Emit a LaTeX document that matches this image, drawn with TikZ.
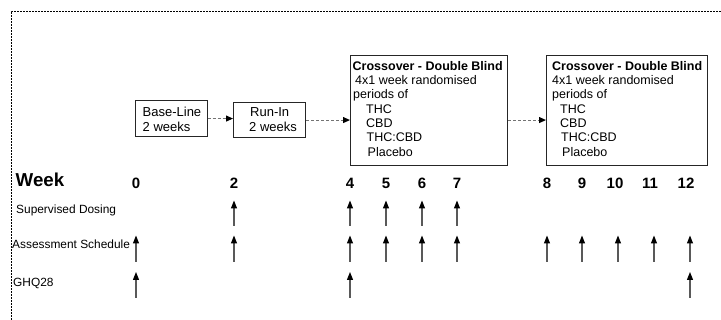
\documentclass[tikz,border=0pt]{standalone}
\usepackage{fontspec}
\setmainfont{Liberation Sans}
\usetikzlibrary{arrows.meta}
\begin{document}
\begin{tikzpicture}[x=1pt,y=-1pt,
  box/.style={draw=black!85, line width=1.1pt, inner sep=0pt, anchor=north west},
  boxtext/.style={anchor=north west, inner sep=0pt, align=left, font=\fontsize{12.5}{14.3}\selectfont},
  smalltext/.style={anchor=north west, inner sep=0pt, align=left, font=\fontsize{13}{15.3}\selectfont},
  flow/.style={draw=black!55, line width=1pt, dash pattern=on 3pt off 2pt, -{Triangle[length=7pt,width=6pt,black]}},
  tick/.style={draw=black!65, line width=1.3pt, -{Triangle[length=8pt,width=6pt,black]}},
  wk/.style={font=\fontsize{15}{15}\bfseries\selectfont, inner sep=0pt},
  rowlab/.style={font=\fontsize{11.9}{12}\selectfont, anchor=west, inner sep=0pt},
]
\useasboundingbox (0,0) rectangle (721,320);
% frame (cropped)
\draw[dash pattern=on 2pt off 1pt, line width=0.9pt] (11,320) -- (11,11) -- (721,11);

% boxes
\node[box, minimum width=72pt, minimum height=36pt] (base) at (134.5,100) {};
\node[box, minimum width=72pt, minimum height=35pt] (run) at (233,102) {};
\node[box, minimum width=157pt, minimum height=110pt] (c1) at (350,55) {};
\node[box, minimum width=161pt, minimum height=110pt] (c2) at (546,55) {};

\node[smalltext] (basetxt) at (142.5,106.5) {Base-Line\\2 weeks};
\node[smalltext] (runtxt) at (249,107.5) {\hspace*{1pt}Run-In\\2 weeks};
\node[boxtext] (c1txt) at (352.5,61) {\textbf{Crossover - Double Blind}\\
  \hspace*{2.5pt}4x1 week randomised\\
  \hspace*{0.5pt}periods of\\
  \hspace*{13.5pt}THC\\
  \hspace*{13.5pt}CBD\\
  \hspace*{14pt}THC:CBD\\
  \hspace*{15pt}Placebo};
\node[boxtext] (c2txt) at (552,61) {\textbf{Crossover - Double Blind}\\
  4x1 week randomised\\
  periods of\\
  \hspace*{8pt}THC\\
  \hspace*{8pt}CBD\\
  \hspace*{9pt}THC:CBD\\
  \hspace*{10pt}Placebo};

% flow connectors
\draw[flow] (base.east) -- (base.east -| run.west);
\draw[flow] (run.east) -- (run.east -| c1.west);
\draw[flow] (run.east -| c1.east) -- (run.east -| c2.west);

% week row
\node[anchor=west, inner sep=0pt, font=\fontsize{18.7}{19}\bfseries\selectfont] (week) at (15.5,180) {Week};
\foreach \n/\x in {0/136,2/234,4/350,5/386,6/422,7/457,8/547,9/582,10/615,11/650,12/686}{
  \node[wk] (w\n) at (\x,183) {\n};
}
% arrow columns (aligned with week numbers)
\foreach \n/\x in {0/136,2/234,4/350,5/386,6/422,7/457,8/547,9/582,10/618,11/654,12/690}{
  \coordinate (a\n) at (\x,183);
}

% row labels
\node[rowlab] (sup) at (16,210) {Supervised Dosing};
\node[rowlab] (ass) at (12,244) {Assessment Schedule};
\node[rowlab] (ghq) at (13,283) {GHQ28};

% ticks
\foreach \n in {2,4,5,6,7}{
  \draw[tick] (a\n |- 0,226) -- (a\n |- 0,200.5);
}
\foreach \n in {0,2,4,5,6,7,8,9,10,11,12}{
  \draw[tick] (a\n |- 0,262) -- (a\n |- 0,235.5);
}
\foreach \n in {0,4,12}{
  \draw[tick] (a\n |- 0,298) -- (a\n |- 0,272);
}
\end{tikzpicture}
\end{document}
